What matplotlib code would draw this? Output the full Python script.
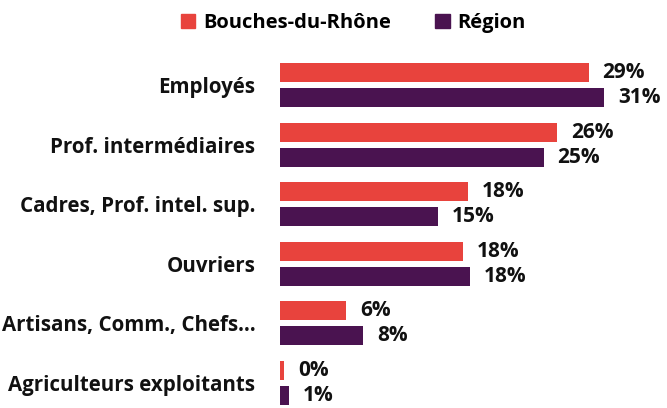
import numpy as np
import matplotlib.pyplot as plt
from matplotlib.patches import Patch

plt.rcParams['font.family'] = ['Open Sans', 'DejaVu Sans']
plt.rcParams['font.weight'] = 'bold'

categories = ["Employés", "Prof. intermédiaires", "Cadres, Prof. intel. sup.",
              "Ouvriers", "Artisans, Comm., Chefs…", "Agriculteurs exploitants"]
bouches = [29.4, 26.4, 17.9, 17.4, 6.3, 0.4]
region = [30.9, 25.1, 15.0, 18.1, 7.9, 0.8]
labels_bouches = ["29%", "26%", "18%", "18%", "6%", "0%"]
labels_region = ["31%", "25%", "15%", "18%", "8%", "1%"]

red = "#E8433D"
purple = "#4A1350"
txt = "#111111"

fig = plt.figure(figsize=(6.67, 4.08), dpi=100)
ax = fig.add_axes([0.42, 0.0, 0.58, 1 - 50 / 408])

y = np.arange(len(categories))
h = 0.32
off = 0.21
ax.barh(y - off, bouches, height=h, color=red)
ax.barh(y + off, region, height=h, color=purple)

for yi, v, lab in zip(y - off, bouches, labels_bouches):
    ax.annotate(lab, (v, yi), xytext=(10, 0), textcoords="offset points",
                va="center", ha="left", fontsize=15, fontweight="bold", color=txt)
for yi, v, lab in zip(y + off, region, labels_region):
    ax.annotate(lab, (v, yi), xytext=(10, 0), textcoords="offset points",
                va="center", ha="left", fontsize=15, fontweight="bold", color=txt)

ax.set_xlim(0, 36.86)
ax.set_ylim(5.42, -0.587)
ax.set_yticks(y)
ax.set_yticklabels(categories, fontsize=14.8, fontweight="bold", color=txt)
ax.tick_params(axis="y", length=0, pad=18)
ax.set_xticks([])
for s in ax.spines.values():
    s.set_visible(False)

handles = [Patch(color=red, label="Bouches-du-Rhône"), Patch(color=purple, label="Région")]
fig.legend(handles=handles, loc="center", bbox_to_anchor=(0.53, 0.943), ncol=2,
           frameon=False, fontsize=14.5, handlelength=0.7, handleheight=0.7,
           handletextpad=0.4, columnspacing=2.2)

fig.savefig("out.png", dpi=100)
